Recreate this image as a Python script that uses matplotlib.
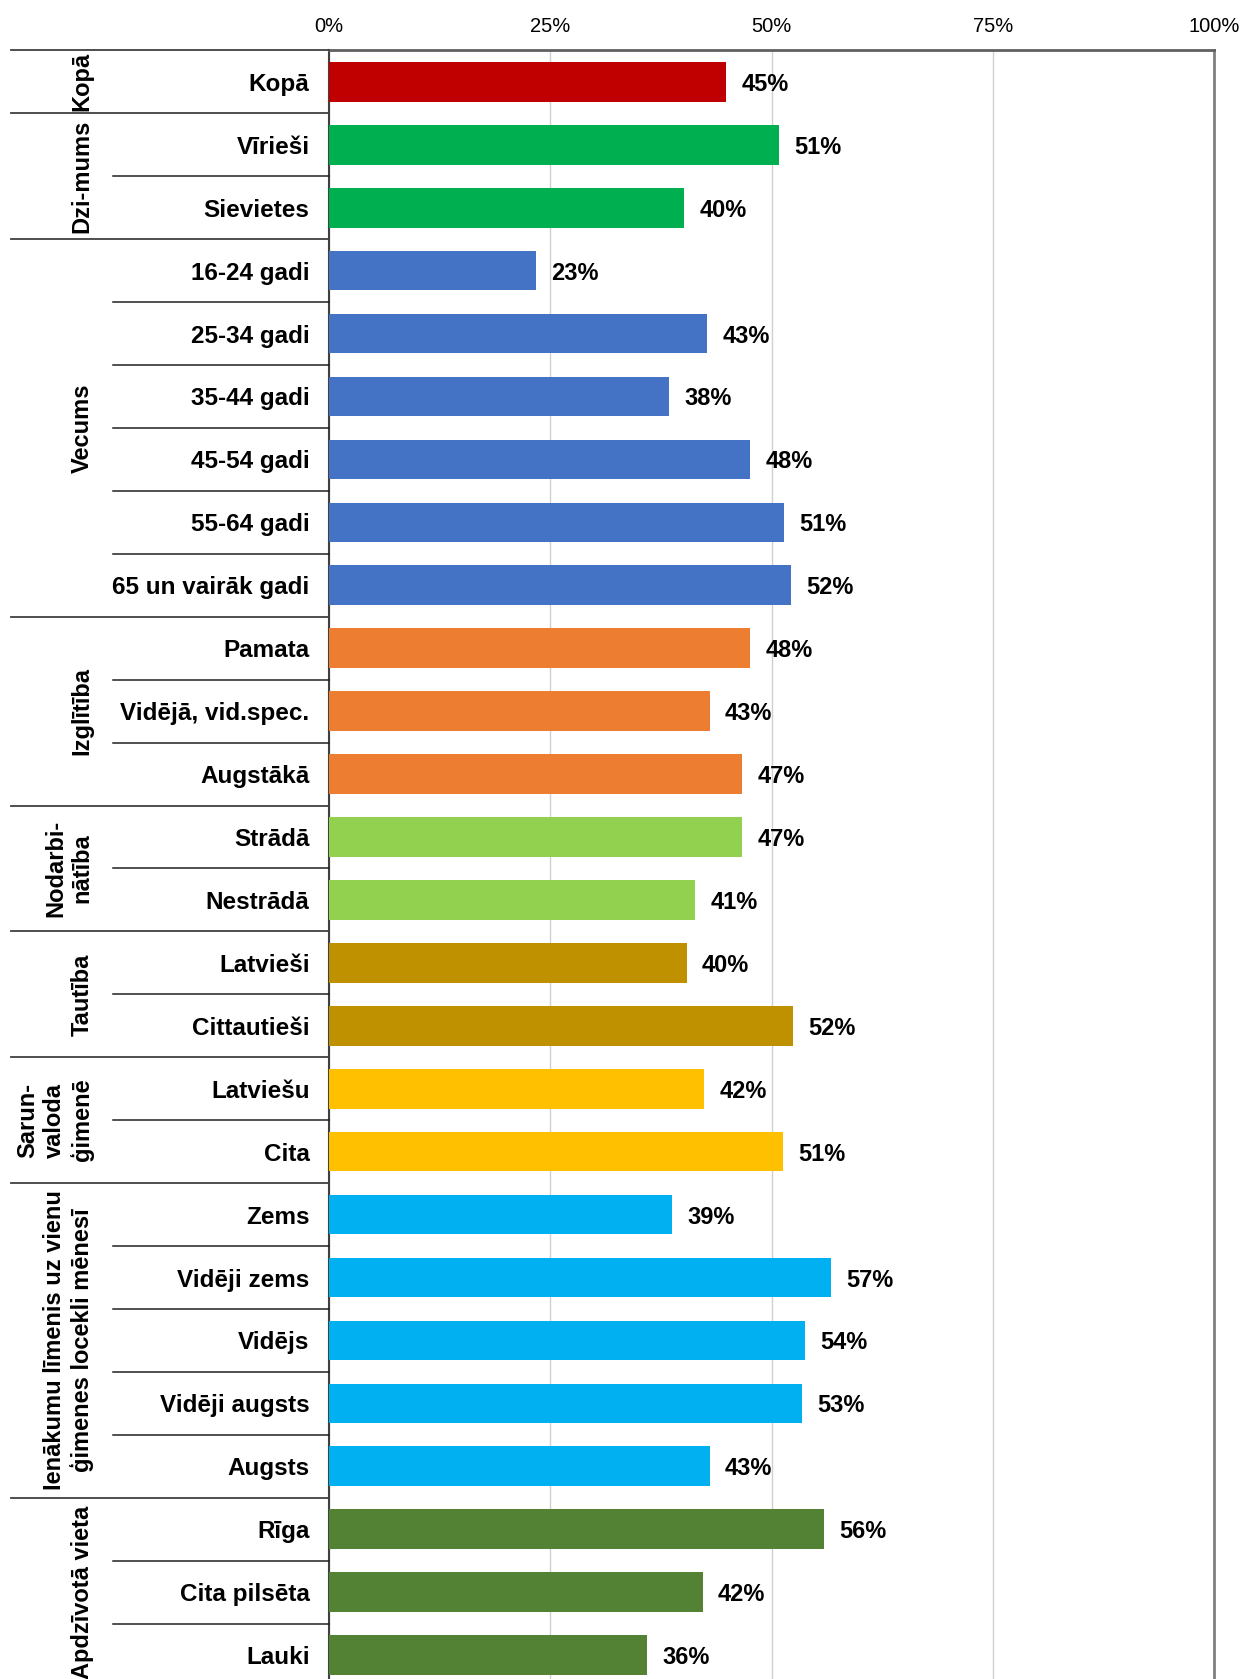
"""
Horizontal bar chart of share by respondent group (survey breakdown).
"""

import matplotlib
matplotlib.use("Agg")
import matplotlib.pyplot as plt
import matplotlib.transforms as mtransforms
from matplotlib.ticker import FuncFormatter

# data
categories = ["Kopā", "Vīrieši", "Sievietes",
              "16-24 gadi", "25-34 gadi", "35-44 gadi", "45-54 gadi", "55-64 gadi", "65 un vairāk gadi",
              "Pamata", "Vidējā, vid.spec.", "Augstākā",
              "Strādā", "Nestrādā",
              "Latvieši", "Cittautieši",
              "Latviešu", "Cita",
              "Zems", "Vidēji zems", "Vidējs", "Vidēji augsts", "Augsts",
              "Rīga", "Cita pilsēta", "Lauki"]
values = [44.9, 50.8, 40.1,
          23.4, 42.7, 38.4, 47.6, 51.4, 52.2,
          47.6, 43.0, 46.7,
          46.7, 41.4,
          40.4, 52.4,
          42.4, 51.3,
          38.8, 56.7, 53.8, 53.4, 43.0,
          55.9, 42.2, 35.9]
group_names = ["Kopā", "Dzi-mums", "Vecums", "Izglītība", "Nodarbi-\nnātība", "Tautība",
               "Sarun-\nvaloda\nģimenē", "Ienākumu līmenis uz vienu\nģimenes locekli mēnesī",
               "Apdzīvotā vieta"]
group_sizes = [1, 2, 6, 3, 2, 2, 2, 5, 3]
group_colors = ["#C00000", "#00B050", "#4472C4", "#ED7D31", "#92D050", "#BF9000",
                "#FFC000", "#00B0F0", "#548235"]
x_ticks = [0, 25, 50, 75, 100]

FONT = ["Liberation Sans", "DejaVu Sans"]

fig = plt.figure(figsize=(12.44, 16.79), dpi=100)
ax = fig.add_axes([0.2645, -0.0045, 0.7114, 0.9745])

# colour of each bar from its group
bar_colors = []
for col, n in zip(group_colors, group_sizes):
    bar_colors += [col] * n

ypos = list(range(len(categories)))
ax.barh(ypos, values, height=0.63, color=bar_colors, zorder=3)

for y, v in zip(ypos, values):
    ax.annotate(f"{v:.0f}%", (v, y), xytext=(11, 0), textcoords="offset points",
                ha="left", va="center_baseline", fontsize=17, fontweight="bold",
                family=FONT, zorder=4)

ax.set_xlim(0, 100)
ax.set_ylim(len(categories) - 0.5, -0.5)
ax.set_xticks(x_ticks)
ax.xaxis.set_major_formatter(FuncFormatter(lambda v, p: f"{v:.0f}%"))
ax.xaxis.tick_top()
ax.tick_params(axis="x", length=0, pad=10, labelsize=14.5)
for lbl in ax.get_xticklabels():
    lbl.set_family(FONT)
ax.set_yticks([])
ax.grid(axis="x", color="#D0D0D0", linewidth=1, zorder=0)

ax.spines["bottom"].set_visible(False)
ax.spines["left"].set_color("#404040")
ax.spines["left"].set_linewidth(1.5)
ax.spines["right"].set_color("#808080")
ax.spines["right"].set_linewidth(2)
ax.spines["top"].set_color("#606060")
ax.spines["top"].set_linewidth(2)

# row labels and separators in the left margin
trans = mtransforms.blended_transform_factory(ax.transAxes, ax.transData)
for y, cat in zip(ypos, categories):
    ax.text(-0.022, y, cat, transform=trans, ha="right", va="center_baseline",
            fontsize=17.5, fontweight="bold", family=FONT)

start = 0
for name, n in zip(group_names, group_sizes):
    # group boundary line
    ax.plot([-0.359, 0], [start - 0.5, start - 0.5], transform=trans, color="#404040",
            linewidth=1.3, clip_on=False, zorder=5)
    # inner lines between rows of a group
    for k in range(1, n):
        ax.plot([-0.244, 0], [start + k - 0.5, start + k - 0.5], transform=trans,
                color="#202020", linewidth=1.1, clip_on=False, zorder=5)
    ax.text(-0.266, start + (n - 1) / 2, name, transform=trans, rotation=90,
            ha="right", va="center", ma="center", fontsize=17, fontweight="bold",
            family=FONT, linespacing=1.2)
    start += n

fig.savefig("out.png", dpi=100)
